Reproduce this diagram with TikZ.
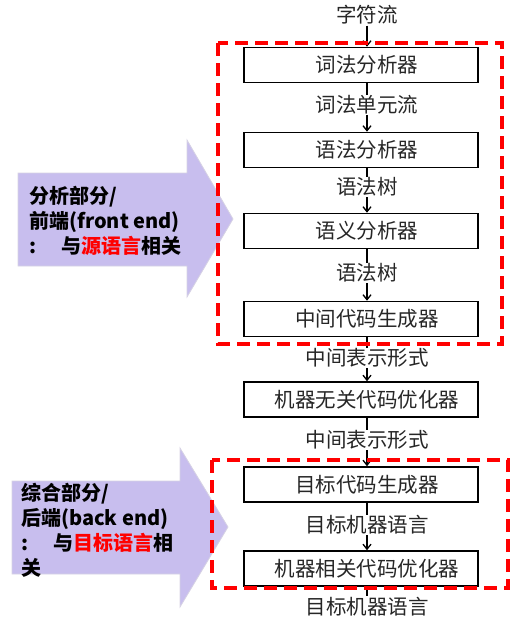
\documentclass[tikz,border=0pt]{standalone}
\usepackage{fontspec}
\setmainfont{Noto Sans CJK SC}
\usetikzlibrary{arrows.meta}
\definecolor{lav}{HTML}{C8BEEE}
\definecolor{lavedge}{HTML}{D6D2E4}
\tikzset{
  stage/.style={draw=black, line width=1.6pt, minimum width=234pt, minimum height=35pt,
    inner sep=0pt, font=\fontsize{20.5}{22}\selectfont, text=black!85,
    execute at begin node={\hspace*{12pt}}},
  flowlabel/.style={fill=white, inner sep=1pt, font=\fontsize{20.5}{22}\selectfont, text=black!85},
  arr/.style={line width=1.3pt, -{Straight Barb[length=5pt,width=8pt,line width=1.3pt]}},
  plainline/.style={line width=1.3pt},
  group/.style={draw=red, line width=3.5pt, dash pattern=on 13pt off 7pt},
  bigarrow/.style={fill=lav, draw=lavedge, line width=0.8pt},
  sidetext/.style={align=left, anchor=west, inner sep=0pt, font=\fontsize{20}{25}\selectfont\bfseries, text=black}
}
\begin{document}
\begin{tikzpicture}[x=1pt,y=-1pt]
\useasboundingbox (0,0) rectangle (531,627);
% big arrows
\path[bigarrow] (18,173) -- (187,173) -- (187,140) -- (233,219) -- (187,297) -- (187,266) -- (18,266) -- cycle;
\path[bigarrow] (12,481) -- (180,481) -- (180,448) -- (228,527) -- (180,607) -- (180,574) -- (12,574) -- cycle;
\node[sidetext] (ta) at (29,221) {分析部分/\\前端(front end)\\:\hspace*{25pt}与\textcolor{red}{源语言}相关};
\node[sidetext] (tb) at (21,530) {综合部分/\\后端(back end)\\:\hspace*{25pt}与\textcolor{red}{目标语言}相\\关};
% stages
\node[stage] (b1) at (361,65) {词法分析器};
\node[stage] (b2) at (361,150) {语法分析器};
\node[stage] (b3) at (361,231) {语义分析器};
\node[stage] (b4) at (361,319) {中间代码生成器};
\node[stage] (b5) at (361,399.5) {机器无关代码优化器};
\node[stage] (b6) at (361,484.5) {目标代码生成器};
\node[stage] (b7) at (361,568.5) {机器相关代码优化器};
% connectors
\draw[arr] ([xshift=6pt]b1.south) -- ([xshift=6pt]b2.north);
\draw[arr] ([xshift=6pt]b2.south) -- ([xshift=6pt]b3.north);
\draw[arr] ([xshift=6pt]b3.south) -- ([xshift=6pt]b4.north);
\draw[arr] ([xshift=6pt]b4.south) -- ([xshift=6pt]b5.north);
\draw[arr] ([xshift=6pt]b5.south) -- ([xshift=6pt]b6.north);
\draw[arr] ([xshift=6pt]b6.south) -- ([xshift=6pt]b7.north);
\node[flowlabel] (l0) at (367,15) {字符流};
\node[flowlabel] (l1) at (367,105) {词法单元流};
\node[flowlabel] (l2) at (367,187) {语法树};
\node[flowlabel] (l3) at (367,273) {语法树};
\node[flowlabel] (l4) at (367,358) {中间表示形式};
\node[flowlabel] (l5) at (367,440) {中间表示形式};
\node[flowlabel] (l6) at (367,525) {目标机器语言};
\node[flowlabel] (l7) at (367,607) {目标机器语言};
\draw[arr] (l0.south) -- ([xshift=6pt]b1.north);
\draw[plainline] ([xshift=6pt]b7.south) -- (l7.north);
% groups
\draw[group] (218,43) rectangle (502,344);
\draw[group] (212,460) rectangle (508,588);
\end{tikzpicture}
\end{document}
